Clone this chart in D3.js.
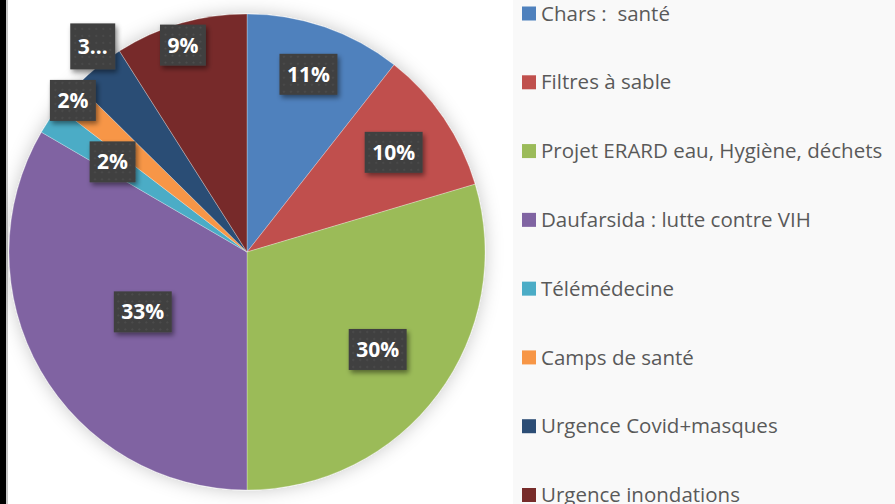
<!DOCTYPE html>
<html>
<head>
<meta charset="utf-8">
<script src="https://cdn.jsdelivr.net/npm/d3@7"></script>
<style>
  html, body { margin: 0; padding: 0; background: #fff; }
  #chart { width: 895px; height: 504px; overflow: hidden; }
</style>
</head>
<body>
<div id="chart"></div>
<script>
// Data
const categories = [
  "Chars :  santé",
  "Filtres à sable",
  "Projet ERARD eau, Hygiène, déchets",
  "Daufarsida : lutte contre VIH",
  "Télémédecine",
  "Camps de santé",
  "Urgence Covid+masques",
  "Urgence inondations"
];
const values = [10.6, 9.8, 29.6, 33.4, 2.0, 2.0, 3.6, 9.0];
const labels = ["11%", "10%", "30%", "33%", "2%", "2%", "3…", "9%"];
const colors = ["#4F81BD", "#C0504D", "#9BBB59", "#8064A2", "#4BACC6", "#F79646", "#2C4D75", "#772C2A"];

const width = 895;
const height = 504;
const cx = 247, cy = 252, radius = 238;
// data label placement (Excel "best fit"): distance as fraction of radius, angle nudge in degrees
const labelR = [0.79, 0.745, 0.685, 0.505, 0.68, 0.97, 1.08, 0.91];
const labelDA = [0, 0, 0, 0, 0, 0, 2, -1];

const svg = d3.select("#chart")
    .append("svg")
    .attr("width", width)
    .attr("height", height);

const defs = svg.append("defs");

// soft glow round the pie
const glow = defs.append("filter").attr("id", "pieShadow")
    .attr("x", "-20%").attr("y", "-20%").attr("width", "140%").attr("height", "140%");
glow.append("feDropShadow")
    .attr("dx", 0).attr("dy", 0)
    .attr("stdDeviation", 9)
    .attr("flood-color", "#000")
    .attr("flood-opacity", 0.22);

// label box shadow
const boxShadow = defs.append("filter").attr("id", "boxShadow")
    .attr("x", "-30%").attr("y", "-30%").attr("width", "170%").attr("height", "170%");
boxShadow.append("feDropShadow")
    .attr("dx", 2).attr("dy", 3)
    .attr("stdDeviation", 2.5)
    .attr("flood-color", "#000")
    .attr("flood-opacity", 0.45);

// dotted texture of the label boxes
const dots = defs.append("pattern").attr("id", "dots")
    .attr("width", 7).attr("height", 7)
    .attr("patternUnits", "userSpaceOnUse");
dots.append("rect").attr("width", 7).attr("height", 7).attr("fill", "#3f3f3f");
dots.append("circle").attr("cx", 3.5).attr("cy", 3.5).attr("r", 1.1).attr("fill", "#4e4e4e");

// left frame edge
svg.append("rect").attr("x", 0).attr("y", 0).attr("width", 6).attr("height", height).attr("fill", "#000");
svg.append("rect").attr("x", 6).attr("y", 0).attr("width", 2).attr("height", height).attr("fill", "#c8c8c8");

// legend panel
svg.append("rect")
    .attr("x", 513).attr("y", 0)
    .attr("width", width - 513).attr("height", height)
    .attr("fill", "#f9f9f9");

const pie = d3.pie().sort(null).value(d => d);
const arcs = pie(values);
const arc = d3.arc().innerRadius(0).outerRadius(radius);

const g = svg.append("g").attr("transform", `translate(${cx},${cy})`);

g.append("g")
    .attr("filter", "url(#pieShadow)")
    .selectAll("path")
    .data(arcs)
    .join("path")
    .attr("d", arc)
    .attr("fill", (d, i) => colors[i])
    .attr("stroke", "rgba(255,255,255,0.35)")
    .attr("stroke-width", 0.8);

// data labels
const lab = g.append("g")
    .selectAll("g")
    .data(arcs)
    .join("g")
    .attr("transform", (d, i) => {
      const a = (d.startAngle + d.endAngle) / 2 + labelDA[i] * Math.PI / 180;
      const r = radius * labelR[i];
      return `translate(${r * Math.sin(a)},${-r * Math.cos(a)})`;
    });

const boxes = lab.append("rect")
    .attr("fill", "url(#dots)")
    .attr("filter", "url(#boxShadow)");

const texts = lab.append("text")
    .attr("text-anchor", "middle")
    .attr("dy", "0.36em")
    .attr("fill", "#fff")
    .style("font-family", "'Open Sans', 'DejaVu Sans', sans-serif")
    .style("font-weight", "bold")
    .style("font-size", "21px")
    .text((d, i) => labels[i]);

texts.each(function(d, i) {
  const w = this.getComputedTextLength();
  const bw = Math.max(40, w + 15);
  const bh = i === 6 ? 46 : 41;
  d3.select(boxes.nodes()[i])
      .attr("x", -bw / 2).attr("y", -bh / 2)
      .attr("width", bw).attr("height", bh);
});

// legend
const legendY = d3.scalePoint()
    .domain(categories)
    .range([13.5, 495]);

const legend = svg.append("g")
    .selectAll("g")
    .data(categories)
    .join("g")
    .attr("transform", d => `translate(522,${legendY(d)})`);

legend.append("rect")
    .attr("x", 0).attr("y", -7)
    .attr("width", 14).attr("height", 14)
    .attr("fill", (d, i) => colors[i]);

legend.append("text")
    .attr("x", 19)
    .attr("dy", "0.35em")
    .attr("fill", "#595959")
    .style("font-family", "'Open Sans', 'DejaVu Sans', sans-serif")
    .style("font-size", "20.5px")
    .style("white-space", "pre")
    .text(d => d);
</script>
</body>
</html>
